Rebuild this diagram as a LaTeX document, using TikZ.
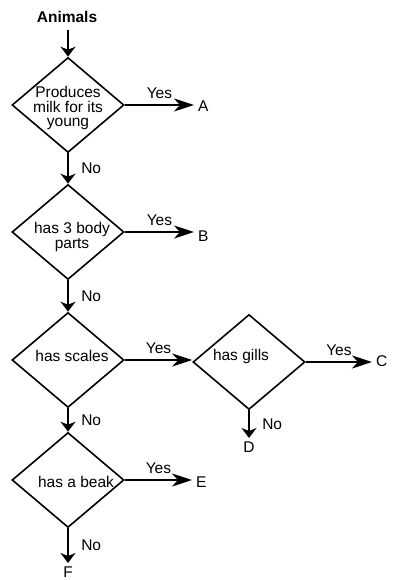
\documentclass[tikz,border=0pt]{standalone}
\usepackage{fontspec}
\setmainfont{Liberation Sans}
\usetikzlibrary{arrows.meta,positioning,shapes.geometric}
\tikzset{
  dia/.style={draw, diamond, line width=1.6pt, minimum width=112pt, minimum height=95pt, inner sep=0pt},
  txt/.style={align=center, inner sep=1pt, font=\fontsize{15.5}{14.5}\selectfont},
  ends/.style={txt, inner sep=4pt},
  yarr/.style={-{Stealth[length=20pt, width=13pt, inset=6pt]}, line width=2.6pt},
  narr/.style={-{Stealth[length=10pt, width=15pt, inset=3pt]}, line width=2.6pt},
  lbl/.style={font=\fontsize{15.5}{14.5}\selectfont, midway, inner sep=2pt}
}
\begin{document}
\begin{tikzpicture}[x=1pt, y=-1pt]
\useasboundingbox (0,0) rectangle (402,580);
\node[txt, font=\fontsize{15.5}{14.5}\selectfont\bfseries] (an) at (67,17) {Animals};
\coordinate (anb) at (68,30);

\node[dia] (q1) at (68,105) {};
\node[txt] (q1t) at (68,108) {Produces\\milk for its\\young};
\node[dia] (q2) at (68,232) {};
\node[txt] (q2t) at (72,237) {has 3 body\\parts};
\node[dia] (q3) at (68,360) {};
\node[txt] (q3t) at (72,356) {has scales};
\node[dia] (q4) at (249,362) {};
\node[txt] (q4t) at (241,356) {has gills};
\node[dia] (q5) at (68,480) {};
\node[txt] (q5t) at (76,482) {has a beak};

\node[ends, anchor=west] (a) at (194,106) {A};
\node[ends, anchor=west] (b) at (194,236) {B};
\node[ends, anchor=west] (c) at (372,361) {C};
\node[ends, anchor=north] (d) at (249,438) {D};
\node[ends, anchor=west] (e) at (192,482) {E};
\node[ends, anchor=north] (f) at (68,563) {F};

\draw[narr] (anb) -- (q1.north);
\draw[yarr] (q1.east) -- node[lbl, above=3pt]{Yes} (q1.east -| a.west);
\draw[narr] (q1.south) -- node[lbl, right=10pt]{No} (q2.north);
\draw[yarr] (q2.east) -- node[lbl, above=3pt]{Yes} (q2.east -| b.west);
\draw[narr] (q2.south) -- node[lbl, right=10pt]{No} (q3.north);
\draw[yarr] (q3.east) -- node[lbl, above=3pt]{Yes} (q3.east -| q4.west);
\draw[yarr] (q4.east) -- node[lbl, above=3pt]{Yes} (q4.east -| c.west);
\draw[narr] (q4.south) -- node[lbl, right=10pt]{No} (d.north);
\draw[narr] (q3.south) -- node[lbl, right=10pt]{No} (q5.north);
\draw[yarr] (q5.east) -- node[lbl, above=3pt]{Yes} (q5.east -| e.west);
\draw[narr] (q5.south) -- node[lbl, right=10pt]{No} (f.north);
\end{tikzpicture}
\end{document}
